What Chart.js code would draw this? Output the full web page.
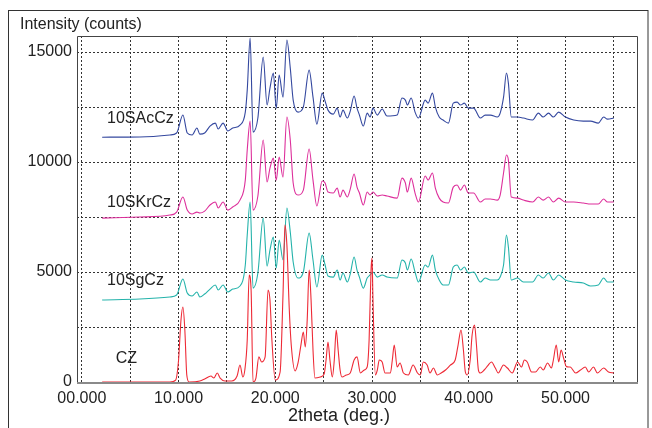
<!DOCTYPE html>
<html>
<head>
<meta charset="utf-8">
<title>XRD patterns</title>
<script src="https://cdn.jsdelivr.net/npm/chart.js"></script>
<style>
  html, body { margin: 0; padding: 0; background: #fff; }
</style>
</head>
<body>
<canvas id="chart" width="652" height="428"></canvas>
<script>
// 2theta positions shared by the three doped samples
var dopedTheta = [2.1, 6.0, 9.1, 9.8, 10.45, 10.9, 11.4, 11.9, 12.2, 12.7, 13.25, 13.8, 14.1, 14.6, 15.1, 15.6, 16.35, 16.9, 17.1, 17.4,
  17.7, 18.2, 18.75, 19.15, 19.45, 19.8, 20.1, 20.4, 20.8, 21.2, 21.55, 21.85, 22.35, 22.9, 23.5, 23.9, 24.3, 24.85, 25.15, 25.45,
  26.0, 26.4, 26.7, 27.0, 27.45, 27.75, 28.15, 28.45, 28.7, 29.1, 29.5, 29.8, 30.1, 30.55, 31.05, 31.55, 32.6, 33.1, 33.45, 33.65,
  34.05, 34.45, 34.8, 35.5, 35.8, 36.25, 36.55, 36.95, 37.35, 37.9, 38.4, 38.8, 39.15, 39.55, 39.95, 40.5, 41.2, 41.7, 42.25, 42.95,
  43.25, 43.6, 43.9, 44.1, 44.4, 45.05, 45.65, 46.6, 47.2, 47.7, 48.25, 48.75, 49.3, 50.0, 50.85, 51.85, 52.6, 53.4, 53.95, 54.35, 55.0];

var sAcCz = [11130, 11140, 11230, 11320, 12140, 11320, 11230, 11545, 11270, 11320, 11635, 11770, 11500, 11770, 11410, 11545, 11680, 12270, 13270, 15635,
  11360, 12000, 14770, 12590, 13360, 14045, 12450, 13950, 12950, 15545, 14270, 12815, 12270, 12500, 14180, 12950, 11725, 13135, 12770, 12360,
  12180, 12450, 12045, 12360, 12000, 12315, 13000, 12450, 12135, 11635, 12225, 12045, 12450, 12135, 12410, 12090, 12135, 12910, 12815, 12590,
  12910, 12270, 12000, 12815, 12680, 13135, 12500, 12045, 11910, 11770, 12680, 12725, 12590, 12680, 12450, 12450, 12000, 12135, 12135, 12045,
  12225, 12950, 14045, 13590, 12045, 12045, 12000, 11910, 12225, 12045, 12225, 12045, 12270, 12045, 11910, 11860, 11860, 11770, 12045, 11950, 12000];

var sKrCz = [7450, 7500, 7590, 7725, 8410, 7815, 7635, 7725, 7680, 7770, 8045, 8180, 7910, 8180, 7815, 7955, 8270, 9180, 10545, 11860,
  7815, 8455, 11000, 9090, 9725, 10180, 9180, 10225, 9315, 12045, 11000, 9045, 8500, 8725, 10590, 9180, 8000, 9135, 9045, 8635,
  8590, 8815, 8410, 8725, 8410, 8770, 9455, 8860, 8590, 8045, 8635, 8500, 8635, 8455, 8500, 8455, 8360, 9270, 9045, 8635,
  9270, 8590, 8180, 9365, 9180, 9500, 8815, 8360, 8180, 8135, 8860, 8955, 8725, 8955, 8590, 8590, 8180, 8320, 8320, 8270,
  8500, 9500, 10320, 10090, 8410, 8360, 8270, 8180, 8410, 8270, 8410, 8180, 8360, 8180, 8180, 8135, 8090, 8090, 8320, 8180, 8180];

var sgCz = [3730, 3770, 3865, 3955, 4680, 4045, 3910, 4090, 3865, 4000, 4225, 4410, 4180, 4410, 4090, 4225, 4365, 5320, 6680, 8180,
  4270, 4955, 7450, 5270, 6000, 6590, 5180, 6455, 5545, 7910, 6820, 5455, 4725, 5000, 6770, 5545, 4320, 5770, 5320, 4820,
  4770, 5090, 4635, 4955, 4545, 4910, 5680, 5090, 4770, 4270, 4725, 4865, 5000, 4770, 4865, 4770, 4725, 5545, 5410, 5090,
  5590, 5000, 4545, 5320, 5225, 5770, 5090, 4635, 4410, 4410, 5225, 5320, 5090, 5225, 4955, 5000, 4545, 4725, 4635, 4635,
  4770, 5320, 6680, 6135, 4635, 4725, 4545, 4545, 4865, 4725, 4955, 4635, 4865, 4635, 4545, 4500, 4365, 4410, 4725, 4545, 4545];

// pure CZ pattern
var czTheta = [2.1, 9.1, 9.7, 10.0, 10.25, 10.45, 10.65, 10.85, 11.1, 12.2, 12.7, 13.35, 13.65, 14.0, 14.3, 14.8, 15.5, 16.05, 16.35, 16.65,
  16.85, 17.1, 17.3, 17.5, 17.7, 18.0, 18.3, 18.6, 18.95, 19.25, 19.45, 19.65, 20.0, 20.5, 20.8, 21.0, 21.2, 21.45, 21.65, 22.05,
  22.35, 22.65, 22.9, 23.1, 23.3, 23.5, 23.7, 23.9, 24.1, 24.65, 25.05, 25.25, 25.45, 25.65, 25.9, 26.1, 26.3, 26.5, 26.7, 26.9,
  27.35, 27.75, 28.15, 28.45, 28.8, 29.2, 29.5, 29.7, 29.9, 30.0, 30.1, 30.35, 30.55, 30.75, 31.05, 31.35, 31.9, 32.1, 32.3, 32.6,
  32.9, 33.25, 33.75, 34.25, 34.7, 35.0, 35.3, 35.7, 36.0, 36.35, 36.75, 37.15, 37.6, 38.1, 38.6, 38.9, 39.2, 39.45, 39.65, 39.85,
  40.15, 40.35, 40.6, 40.8, 41.0, 41.2, 41.6, 41.95, 42.35, 42.75, 43.05, 43.6, 44.0, 44.5, 45.05, 45.45, 45.75, 46.05, 46.5, 46.9,
  47.4, 47.7, 48.15, 48.55, 48.75, 49.05, 49.3, 49.55, 49.8, 50.1, 50.5, 51.05, 51.55, 52.05, 52.4, 52.9, 53.3, 53.95, 54.45, 55.0];

var cz = [0, 0, 90, 1000, 2820, 3410, 2365, 320, 0, 45, 135, 270, 180, 410, 180, 45, 45, 270, 770, 225,
  545, 1910, 4860, 4180, 0, 180, 1140, 910, 1140, 4180, 3730, 1910, 90, 455, 4000, 7135, 6225, 3270, 1680, 500,
  865, 1680, 2270, 1590, 2820, 5090, 3730, 1455, 180, 225, 365, 1000, 1820, 1000, 225, 1000, 2365, 1455, 545, 225,
  320, 410, 1000, 1140, 410, 545, 680, 1910, 5090, 5635, 3730, 320, 545, 1000, 910, 410, 410, 1000, 1680, 680,
  865, 410, 320, 770, 410, 320, 910, 770, 410, 635, 320, 410, 545, 770, 1000, 1680, 2365, 1455, 455, 320,
  1000, 2135, 2590, 1680, 545, 410, 545, 730, 910, 635, 410, 770, 635, 410, 910, 680, 1000, 910, 455, 455,
  680, 545, 865, 635, 1000, 1680, 910, 1455, 1100, 700, 680, 410, 545, 680, 455, 680, 410, 635, 455, 410];

var seriesNames = ['CZ', '10SgCz', '10SKrCz', '10SAcCz'];
var xGridValues = [0, 5, 10, 15, 20, 25, 30, 35, 40, 45, 50, 55];
var xTickValues = [0, 10, 20, 30, 40, 50];
var xTickLabels = ['00.000', '10.000', '20.000', '30.000', '40.000', '50.000'];
var yGridValues = [0, 2500, 5000, 7500, 10000, 12500, 15000];
var yTickValues = [0, 5000, 10000, 15000];
var yTickLabels = ['0', '5000', '10000', '15000'];

function pts(xs, ys) {
  return xs.map(function (x, i) { return { x: x, y: ys[i] }; });
}

var FONT = '"Liberation Sans", Arial, Helvetica, sans-serif';

// frame, axis box and the text labels drawn on the canvas
var decorations = {
  id: 'decorations',
  beforeDraw: function (chart) {
    var ctx = chart.ctx;
    ctx.save();
    ctx.fillStyle = '#fff';
    ctx.fillRect(0, 0, chart.width, chart.height);
    ctx.strokeStyle = '#333';
    ctx.lineWidth = 1;
    ctx.strokeRect(8.5, 10.5, 639.5, 440);
    ctx.restore();
  },
  afterDraw: function (chart) {
    var ctx = chart.ctx, a = chart.chartArea;
    var xs = chart.scales.x, ys = chart.scales.y;
    ctx.save();
    ctx.strokeStyle = '#444';
    ctx.lineWidth = 1;
    ctx.beginPath();
    ctx.moveTo(a.left + 0.5, a.bottom);
    ctx.lineTo(a.left + 0.5, a.top + 0.5);
    ctx.lineTo(a.right - 0.5, a.top + 0.5);
    ctx.lineTo(a.right - 0.5, a.bottom);
    ctx.stroke();
    ctx.strokeStyle = '#8a8a8a';
    ctx.lineWidth = 2;
    ctx.beginPath();
    ctx.moveTo(a.left, a.bottom + 1);
    ctx.lineTo(a.right, a.bottom + 1);
    ctx.stroke();

    ctx.fillStyle = '#222';
    ctx.font = '16px ' + FONT;
    ctx.textAlign = 'left';
    ctx.textBaseline = 'alphabetic';
    ctx.fillText('Intensity (counts)', 20, 29);

    var anchors = [[3.5, 865], [2.6, 4410], [2.6, 7955], [2.6, 11770]];
    seriesNames.forEach(function (name, i) {
      ctx.fillText(name, xs.getPixelForValue(anchors[i][0]), ys.getPixelForValue(anchors[i][1]));
    });

    ctx.font = '18px ' + FONT;
    ctx.textAlign = 'center';
    ctx.fillText('2theta (deg.)', 339, 421);
    ctx.restore();
  }
};

var lineStyle = function (color) {
  return { borderColor: color, borderWidth: 1.1, pointRadius: 0, cubicInterpolationMode: 'monotone', fill: false };
};

new Chart(document.getElementById('chart'), {
  type: 'line',
  data: {
    datasets: [
      Object.assign({ label: seriesNames[0], data: pts(czTheta, cz) }, lineStyle('#ee2a36')),
      Object.assign({ label: seriesNames[1], data: pts(dopedTheta, sgCz) }, lineStyle('#25b3ab')),
      Object.assign({ label: seriesNames[2], data: pts(dopedTheta, sKrCz) }, lineStyle('#dd2f9b')),
      Object.assign({ label: seriesNames[3], data: pts(dopedTheta, sAcCz) }, lineStyle('#34489f'))
    ]
  },
  options: {
    responsive: false,
    animation: false,
    layout: { padding: { left: 0, top: 36, right: 14, bottom: 0 } },
    plugins: { legend: { display: false }, tooltip: { enabled: false } },
    scales: {
      x: {
        type: 'linear',
        min: -0.5,
        max: 57.5,
        afterFit: function (s) { s.height = 46; },
        afterBuildTicks: function (s) { s.ticks = xGridValues.map(function (v) { return { value: v }; }); },
        grid: { color: '#333', lineWidth: 1, drawTicks: false },
        border: { display: false, dash: [2, 2] },
        ticks: {
          padding: 7,
          autoSkip: false,
          maxRotation: 0,
          color: '#222',
          font: { family: FONT, size: 16 },
          callback: function (v) {
            var i = xTickValues.indexOf(v);
            return i >= 0 ? xTickLabels[i] : '';
          }
        }
      },
      y: {
        type: 'linear',
        min: 0,
        max: 15730,
        afterFit: function (s) { s.width = 77; },
        afterBuildTicks: function (s) { s.ticks = yGridValues.map(function (v) { return { value: v }; }); },
        grid: { color: '#333', lineWidth: 1, drawTicks: false },
        border: { display: false, dash: [2, 2] },
        ticks: {
          padding: 5,
          autoSkip: false,
          color: '#222',
          font: { family: FONT, size: 16 },
          callback: function (v) {
            var i = yTickValues.indexOf(v);
            return i >= 0 ? yTickLabels[i] : '';
          }
        }
      }
    }
  },
  plugins: [decorations]
});
</script>
</body>
</html>
